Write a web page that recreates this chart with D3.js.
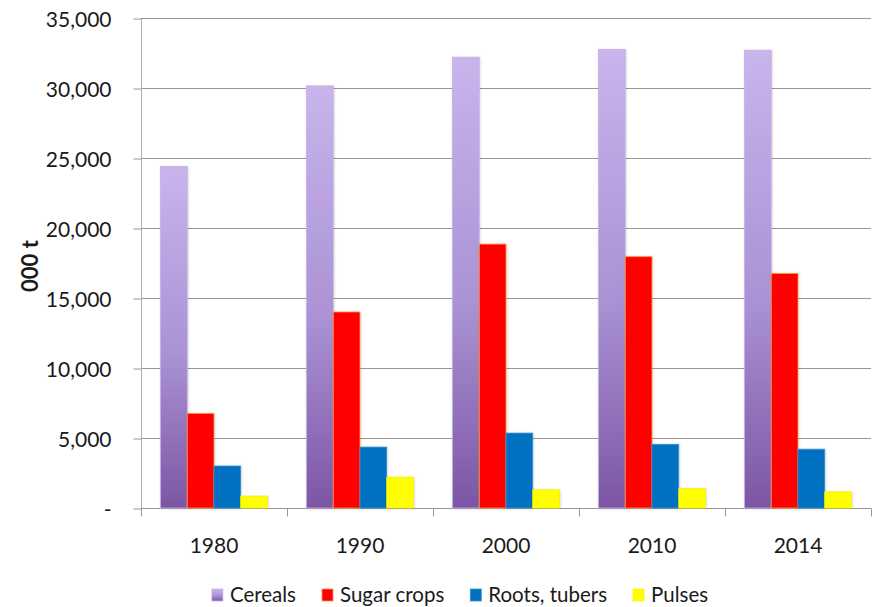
<!DOCTYPE html>
<html>
<head>
<meta charset="utf-8">
<script src="https://cdn.jsdelivr.net/npm/d3@7"></script>
<style>
  body { margin: 0; background: #fff; }
  text { font-family: Lato, "Open Sans", sans-serif; fill: #1a1a1a; }
</style>
</head>
<body>
<div id="chart"></div>
<script>
// chart values
const years = ['1980', '1990', '2000', '2010', '2014'];
const seriesNames = ['Cereals', 'Sugar crops', 'Roots, tubers', 'Pulses'];
const cereals = [24400, 30150, 32200, 32750, 32700];
const sugarCrops = [6750, 14000, 18850, 17950, 16750];
const rootsTubers = [3000, 4350, 5350, 4550, 4200];
const pulses = [850, 2200, 1300, 1380, 1150];
const yTicks = [0, 5000, 10000, 15000, 20000, 25000, 30000, 35000];

const seriesValues = [cereals, sugarCrops, rootsTubers, pulses];
const fills = ['url(#cerealGrad)', '#ff0000', '#0070c0', '#ffff00'];
const strokes = ['#c4b0e6', '#f79646', '#3c8fd0', '#f2f200'];

const W = 873, H = 607;
const plot = { left: 141, right: 871, top: 18, bottom: 508 };

const svg = d3.select('#chart').append('svg')
  .attr('width', W).attr('height', H);

const defs = svg.append('defs');
const grad = defs.append('linearGradient').attr('id', 'cerealGrad')
  .attr('x1', 0).attr('y1', 0).attr('x2', 0).attr('y2', 1);
grad.append('stop').attr('offset', '0%').attr('stop-color', '#c9b4ec');
grad.append('stop').attr('offset', '55%').attr('stop-color', '#aa92d4');
grad.append('stop').attr('offset', '100%').attr('stop-color', '#7c56a4');

const shadow = defs.append('filter').attr('id', 'shadow')
  .attr('x', '-20%').attr('y', '-5%').attr('width', '140%').attr('height', '110%');
shadow.append('feDropShadow').attr('dx', 0.5).attr('dy', 0.5)
  .attr('stdDeviation', 1).attr('flood-color', '#000').attr('flood-opacity', 0.18);

const y = d3.scaleLinear().domain([0, 35000]).range([plot.bottom, plot.top]);
const x0 = d3.scaleBand().domain(years).range([plot.left, plot.right]).padding(0);
const x1 = d3.scaleBand().domain(seriesNames).range([0, x0.bandwidth()])
  .paddingInner(0).paddingOuter(0.73);

// gridlines
svg.append('g')
  .selectAll('line')
  .data(yTicks.filter(t => t > 0))
  .join('line')
  .attr('x1', plot.left).attr('x2', plot.right)
  .attr('y1', d => Math.round(y(d)) + 0.5).attr('y2', d => Math.round(y(d)) + 0.5)
  .attr('stroke', '#979797').attr('stroke-width', 1);

// y axis
const yAxis = svg.append('g')
  .attr('transform', `translate(${plot.left + 0.5},0.5)`)
  .call(d3.axisLeft(y).tickValues(yTicks).tickSize(8).tickPadding(22)
    .tickFormat(d => d === 0 ? '-' : d3.format(',')(d)));
yAxis.select('.domain').attr('stroke', '#b0b0b0').attr('d', `M0,${plot.top}V${plot.bottom}`);
yAxis.selectAll('.tick line').attr('stroke', '#979797');
yAxis.selectAll('.tick text')
  .style('font-size', '21px').style('font-family', 'Lato, sans-serif').attr('fill', '#1a1a1a')
  .attr('dy', '0.36em');

svg.append('text')
  .attr('transform', `translate(38,${(plot.top + plot.bottom) / 2 + 3}) rotate(-90)`)
  .attr('text-anchor', 'middle')
  .style('font-size', '22px').style('font-weight', 'bold')
  .text('000 t');

// x axis
const xAxis = svg.append('g').attr('transform', `translate(0,${plot.bottom + 0.5})`);
xAxis.append('line').attr('x1', plot.left).attr('x2', plot.right)
  .attr('stroke', '#979797');
xAxis.selectAll('line.tk')
  .data(years.map(d => x0(d)).concat([plot.right]))
  .join('line').attr('class', 'tk')
  .attr('x1', d => Math.round(d) + 0.5).attr('x2', d => Math.round(d) + 0.5)
  .attr('y1', 0).attr('y2', 8).attr('stroke', '#979797');
xAxis.selectAll('text')
  .data(years)
  .join('text')
  .attr('x', d => x0(d) + x0.bandwidth() / 2)
  .attr('y', 44)
  .attr('text-anchor', 'middle')
  .style('font-size', '21px')
  .text(d => d);

// bars
const groups = svg.append('g').selectAll('g')
  .data(years)
  .join('g')
  .attr('transform', d => `translate(${x0(d)},0)`);

groups.selectAll('rect')
  .data((d, i) => seriesNames.map((s, k) => ({ s, k, v: seriesValues[k][i] })))
  .join('rect')
  .attr('x', d => x1(d.s))
  .attr('y', d => y(d.v))
  .attr('width', x1.bandwidth())
  .attr('height', d => y(0) - y(d.v))
  .attr('fill', d => fills[d.k])
  .attr('stroke', d => strokes[d.k])
  .attr('stroke-width', 0.8)
  .attr('filter', 'url(#shadow)');

// legend
const legend = svg.append('g');
let lx = 0;
seriesNames.forEach((s, k) => {
  const item = legend.append('g').attr('transform', `translate(${lx},0)`);
  item.append('rect').attr('x', 0).attr('y', -13).attr('width', 11).attr('height', 12)
    .attr('fill', fills[k]).attr('stroke', strokes[k]).attr('stroke-width', 0.8);
  const t = item.append('text').attr('x', 18).attr('y', 0)
    .style('font-size', '20.5px').text(s);
  lx += 18 + t.node().getComputedTextLength() + 26;
});
const legendW = lx - 26;
legend.attr('transform', `translate(${460 - legendW / 2},602)`);
</script>
</body>
</html>
